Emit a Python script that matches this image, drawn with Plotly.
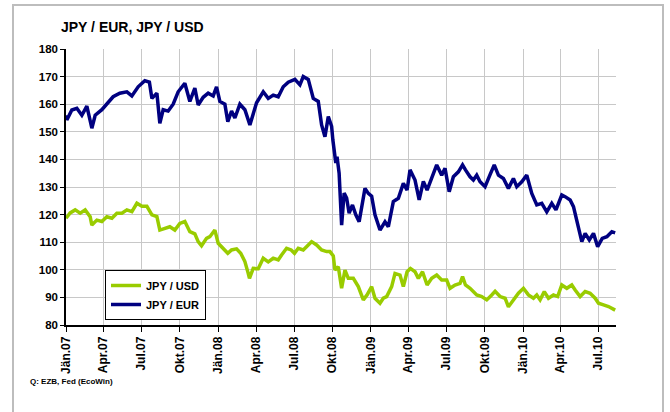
import pandas as pd
import plotly.graph_objects as go

# Day offsets since 2007-01-01 and values
eur_days = [0, 2, 14, 26, 38, 50, 62, 70, 86, 98, 113, 129, 146, 158, 173, 189, 200, 206, 218, 225,
            233, 245, 257, 269, 285, 297, 309, 317, 329, 341, 353, 361, 369, 381, 388, 397, 405, 417,
            429, 441, 457, 473, 485, 497, 509, 521, 533, 549, 561, 569, 581, 593, 605, 613, 621, 629,
            637, 640, 647, 650, 655, 661, 667, 673, 679, 687, 695, 703, 717, 725, 733, 741, 753, 765,
            773, 785, 797, 809, 818, 825, 837, 847, 857, 866, 877, 889, 901, 909, 919, 929, 941, 951,
            958, 969, 977, 985, 993, 1005, 1017, 1027, 1037, 1049, 1061, 1073, 1081, 1093, 1105, 1117,
            1129, 1141, 1153, 1165, 1175, 1189, 1197, 1209, 1217, 1225, 1237, 1245, 1255, 1265, 1275,
            1286, 1297, 1309, 1317]
eur_vals = [156, 154.3, 157.9, 158.5, 156, 159.3, 151.3, 156, 158, 160.3, 162.7, 164, 164.5, 163, 166.3,
            168.5, 168, 162.1, 164, 153.1, 158, 157.5, 160, 164.5, 167.6, 161, 165.8, 159.7, 162.5, 164,
            163, 166.3, 161, 160, 153.7, 157.5, 155, 160, 158, 152.5, 160.5, 164.5, 162.1, 163.3, 162.7,
            166.3, 168, 169, 167, 170, 169, 162.1, 161, 152.5, 148.2, 155.5, 152, 147, 138.7, 141, 135,
            116.2, 127.8, 126, 120.5, 123.5, 119.9, 117.4, 129.5, 127.7, 126.7, 119.9, 114.4, 117.4,
            115.6, 124.7, 125.9, 131.3, 128.9, 136.2, 132.5, 125.3, 132, 128.9, 133.7, 138, 134.3, 136.8,
            128.3, 133.7, 135.5, 138, 136.2, 133.7, 132.5, 134.3, 131.9, 130.1, 134.5, 138, 134.3, 133.1,
            129.5, 133.1, 130.1, 131.9, 134.3, 127.7, 123.5, 124.1, 121, 124.1, 121.7, 127.1, 126.5,
            125.3, 122.9, 117.4, 110.2, 113.2, 110.8, 113.2, 108.4, 111.4, 112, 113.8, 113.4]

usd_days = [0, 10, 22, 34, 46, 58, 62, 74, 86, 98, 110, 122, 134, 146, 158, 170, 182, 194, 206, 218,
            225, 237, 249, 261, 273, 285, 297, 309, 317, 325, 337, 345, 357, 365, 377, 388, 397, 409,
            419, 429, 437, 440, 449, 461, 473, 485, 497, 509, 517, 529, 540, 548, 557, 569, 581, 589,
            601, 613, 625, 633, 641, 645, 653, 661, 669, 677, 689, 701, 713, 722, 733, 741, 753, 761,
            769, 781, 789, 801, 809, 818, 826, 837, 845, 855, 866, 877, 889, 901, 913, 921, 933, 945,
            951, 958, 969, 985, 997, 1009, 1021, 1029, 1041, 1053, 1061, 1073, 1085, 1097, 1109, 1121,
            1129, 1137, 1147, 1157, 1169, 1179, 1189, 1201, 1213, 1221, 1233, 1245, 1257, 1269, 1277,
            1289, 1301, 1317]
usd_vals = [118.7, 120.6, 121.7, 120.5, 121.7, 119.2, 116.2, 118, 117.5, 119.2, 118.7, 120.5, 120.5,
            121.7, 121.1, 124.1, 123, 123, 119.9, 119.3, 114.4, 115, 115.6, 114.4, 116.8, 117.5, 113.8,
            113, 110.2, 108.7, 111.4, 112, 114.4, 109.6, 107.6, 106, 107.2, 107.6, 106, 103, 98.7, 96.9,
            100.5, 100.4, 104.2, 102.9, 104.2, 103.6, 105.4, 107.8, 107.2, 106, 107.8, 107.2, 109, 110.2,
            109, 107.2, 106.6, 106.6, 105, 99.9, 101.1, 93.3, 99.9, 96.9, 96.9, 93.9, 89.1, 90.9, 93.9,
            89.7, 87.9, 89.7, 90.3, 93.9, 98.7, 98.1, 93.9, 99.3, 100.5, 99.3, 96.9, 99.3, 94.5, 96.9,
            98.1, 96.3, 96.3, 93.3, 94.5, 95.1, 97.5, 94.5, 93.3, 90.9, 90.3, 89.1, 90.9, 92.2, 90.3, 89.7,
            86.6, 89.1, 91.5, 93.3, 90.9, 89.7, 90.9, 89.1, 92.1, 89.7, 90.9, 90.3, 94.5, 93.3, 94.5,
            92.7, 90.3, 92.1, 91.5, 89.7, 87.9, 87.3, 86.7, 85.4]

tick_dates = ["2007-01-01", "2007-04-01", "2007-07-01", "2007-10-01", "2008-01-01", "2008-04-01",
              "2008-07-01", "2008-10-01", "2009-01-01", "2009-04-01", "2009-07-01", "2009-10-01",
              "2010-01-01", "2010-04-01", "2010-07-01"]
tick_labels = ["Jän.07", "Apr.07", "Jul.07", "Okt.07", "Jän.08", "Apr.08", "Jul.08", "Okt.08",
               "Jän.09", "Apr.09", "Jul.09", "Okt.09", "Jän.10", "Apr.10", "Jul.10"]

start = pd.Timestamp("2007-01-01")
eur_x = [start + pd.Timedelta(days=d) for d in eur_days]
usd_x = [start + pd.Timedelta(days=d) for d in usd_days]

FONT = "Arial, Liberation Sans, sans-serif"

fig = go.Figure()
fig.add_trace(go.Scatter(x=usd_x, y=usd_vals, mode="lines", name="JPY / USD",
                         line=dict(color="#99cc00", width=3.5)))
fig.add_trace(go.Scatter(x=eur_x, y=eur_vals, mode="lines", name="JPY / EUR",
                         line=dict(color="#000080", width=3.5)))

L, R, T, B = 66, 54, 49, 87
W, H = 670, 412
pw, ph = W - L - R, H - T - B

def px(x):
    return (x - L) / pw

def py(y):
    return (H - B - y) / ph

fig.update_layout(
    width=W, height=H,
    margin=dict(l=L, r=R, t=T, b=B),
    paper_bgcolor="white", plot_bgcolor="white",
    font=dict(family=FONT, color="black"),
    showlegend=True,
    legend=dict(x=px(105), y=py(270), xanchor="left", yanchor="top",
                bgcolor="white", bordercolor="black", borderwidth=1,
                font=dict(family=FONT, size=11, weight="bold", color="black"),
                itemwidth=30, tracegroupgap=0),
    xaxis=dict(range=["2007-01-01", str(start + pd.Timedelta(days=1319))[:10]],
               tickvals=tick_dates, ticktext=tick_labels, tickangle=-90,
               tickfont=dict(family=FONT, size=12, weight="bold"),
               showgrid=True, gridcolor="#c8c8c8", gridwidth=1,
               showline=True, linecolor="black", linewidth=1.5,
               ticks="outside", ticklen=5, tickcolor="black", zeroline=False),
    yaxis=dict(range=[80, 180], dtick=10, tick0=80,
               tickfont=dict(family=FONT, size=11.5, weight="bold"),
               showgrid=True, gridcolor="#c8c8c8", gridwidth=1,
               showline=True, linecolor="black", linewidth=1.5,
               ticks="outside", ticklen=4, tickcolor="black", zeroline=False),
    shapes=[
        dict(type="rect", xref="paper", yref="paper",
             x0=px(13), x1=px(663), y0=py(420), y1=py(5),
             line=dict(color="#bdbdbd", width=2), fillcolor="rgba(0,0,0,0)", layer="below"),
        dict(type="rect", xref="paper", yref="paper",
             x0=px(108), x1=px(206), y0=py(320), y1=py(273),
             line=dict(color="black", width=0), fillcolor="black", layer="above"),
    ],
    annotations=[
        dict(text="JPY / EUR, JPY / USD", xref="paper", yref="paper", x=px(59), y=py(27),
             xanchor="left", yanchor="middle", showarrow=False,
             font=dict(family=FONT, size=14, weight="bold", color="black")),
        dict(text="Q: EZB, Fed (EcoWin)", xref="paper", yref="paper", x=px(28), y=py(381),
             xanchor="left", yanchor="middle", showarrow=False,
             font=dict(family="Liberation Sans Narrow, Arial Narrow, Arial, sans-serif", size=8,
                       weight="bold", color="black")),
    ],
)

fig.write_html("out.html", config={"displayModeBar": False},
               post_script="document.body.style.margin='0';document.body.style.overflow='hidden';")
